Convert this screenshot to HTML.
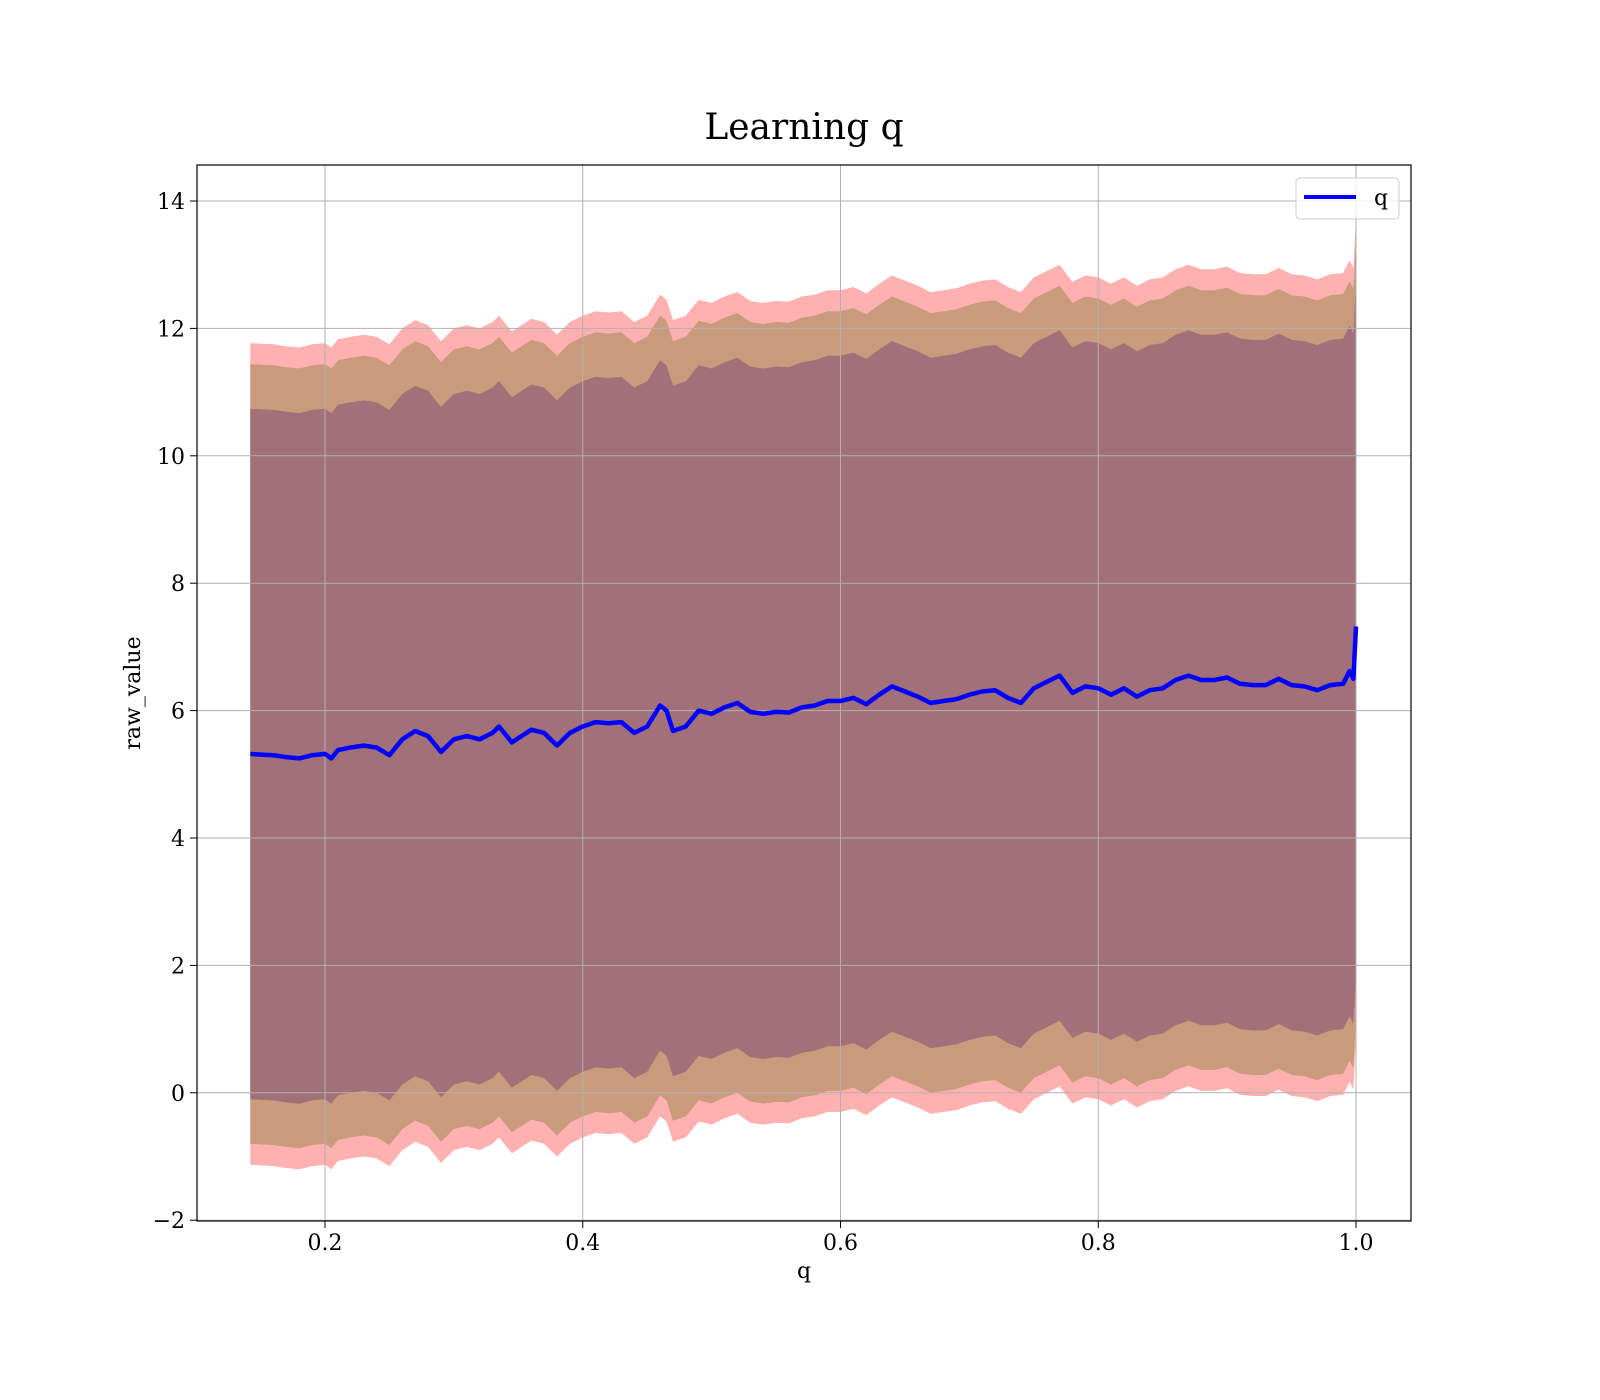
<!DOCTYPE html>
<html><head><meta charset="utf-8"><style>
html,body{margin:0;padding:0;background:#fff;overflow:hidden;width:1600px;height:1400px}
svg{display:block}
svg text{font-family:"DejaVu Serif","Liberation Serif",serif;fill:#000}
</style></head><body>
<svg id="chart" width="1600" height="1400" xmlns="http://www.w3.org/2000/svg">
<rect width="1600" height="1400" fill="#fff"/>
<text x="804" y="139" font-size="36" text-anchor="middle">Learning q</text>
<g id="bands"></g><g id="grid"></g><g id="line"></g><g id="ticks"></g>
<rect x="197" y="165" width="1214" height="1056" fill="none" stroke="#000" stroke-width="1.2"/>
<text x="804" y="1278" font-size="22" text-anchor="middle">q</text>
<text transform="translate(140,693) rotate(-90)" font-size="22" text-anchor="middle">raw_value</text>
<g>
<rect x="1296" y="178" width="103" height="41" rx="4" fill="#fff" fill-opacity="0.8" stroke="#ccc"/>
<line x1="1304" y1="197" x2="1356" y2="197" stroke="#0000ff" stroke-width="4"/>
<text x="1374" y="205" font-size="22">q</text>
</g>
</svg>
<script>
const xVals=[0.142,0.15,0.16,0.17,0.18,0.19,0.2,0.205,0.21,0.22,0.23,0.24,0.25,0.26,0.27,0.28,0.29,0.30,0.31,0.32,0.33,0.335,0.345,0.36,0.37,0.38,0.39,0.40,0.41,0.42,0.43,0.44,0.45,0.46,0.465,0.47,0.48,0.49,0.50,0.51,0.52,0.53,0.54,0.55,0.56,0.57,0.58,0.59,0.60,0.61,0.62,0.63,0.64,0.65,0.66,0.67,0.68,0.69,0.70,0.71,0.72,0.73,0.74,0.75,0.76,0.77,0.78,0.79,0.80,0.81,0.82,0.83,0.84,0.85,0.86,0.87,0.88,0.89,0.90,0.91,0.92,0.93,0.94,0.95,0.96,0.97,0.98,0.99,0.995,0.998,1.0];
const meanVals=[5.32,5.31,5.30,5.27,5.25,5.30,5.32,5.25,5.38,5.42,5.45,5.42,5.30,5.55,5.68,5.60,5.35,5.55,5.60,5.55,5.65,5.75,5.50,5.70,5.65,5.45,5.65,5.75,5.82,5.80,5.82,5.65,5.75,6.08,6.00,5.68,5.75,6.00,5.95,6.05,6.12,5.98,5.95,5.98,5.97,6.05,6.08,6.15,6.15,6.20,6.10,6.25,6.38,6.30,6.22,6.12,6.15,6.18,6.25,6.30,6.32,6.20,6.12,6.35,6.45,6.55,6.28,6.38,6.35,6.25,6.35,6.22,6.32,6.35,6.48,6.55,6.48,6.48,6.52,6.42,6.40,6.40,6.50,6.40,6.38,6.32,6.40,6.42,6.62,6.50,7.32];
const bandOuter=6.45, bandMid=6.12, bandInner=5.42;
const xTicks=[0.2,0.4,0.6,0.8,1.0];
const xTickLabels=["0.2","0.4","0.6","0.8","1.0"];
const yTicks=[-2,0,2,4,6,8,10,12,14];
const yTickLabels=["\u22122","0","2","4","6","8","10","12","14"];
const NS="http://www.w3.org/2000/svg";
const X=v=>325+(v-0.2)*1288.75;
const Y=v=>1092.8-v*63.7;
function mk(tag,attrs,parent){const e=document.createElementNS(NS,tag);for(const k in attrs)e.setAttribute(k,attrs[k]);document.getElementById(parent).appendChild(e);return e;}
function band(w,color,name){
  let up=xVals.map((x,i)=>X(x).toFixed(1)+","+Y(meanVals[i]+w).toFixed(1));
  let lo=xVals.map((x,i)=>X(x).toFixed(1)+","+Y(meanVals[i]-w).toFixed(1)).reverse();
  const p=mk('polygon',{points:up.concat(lo).join(' '),fill:color},'bands');
  
  
}
band(bandOuter,'#ffb1b1','band-outer');
band(bandMid,'#c99a7c','band-middle');
band(bandInner,'#a17079','band-inner');
xTicks.forEach((t,i)=>{
  const g=mk('line',{x1:X(t),x2:X(t),y1:165,y2:1221,stroke:'#b0b0b0','stroke-width':1},'grid');
  
  
  mk('line',{x1:X(t),x2:X(t),y1:1221,y2:1228,stroke:'#000'},'ticks');
  const tx=mk('text',{x:X(t),y:1250,'font-size':22,'text-anchor':'middle'},'ticks');
  tx.textContent=xTickLabels[i];
  
  
});
yTicks.forEach((t,i)=>{
  const g=mk('line',{x1:197,x2:1411,y1:Y(t),y2:Y(t),stroke:'#b0b0b0','stroke-width':1},'grid');
  
  
  mk('line',{x1:190,x2:197,y1:Y(t),y2:Y(t),stroke:'#000'},'ticks');
  const tx=mk('text',{x:185,y:Y(t)+8,'font-size':22,'text-anchor':'end'},'ticks');
  tx.textContent=yTickLabels[i];
  
  
});
const pl=mk('polyline',{points:xVals.map((x,i)=>X(x).toFixed(1)+","+Y(meanVals[i]).toFixed(1)).join(' '),fill:'none',stroke:'#0000ff','stroke-width':4.5,'stroke-linejoin':'round'},'line');


</script>
</body></html>
